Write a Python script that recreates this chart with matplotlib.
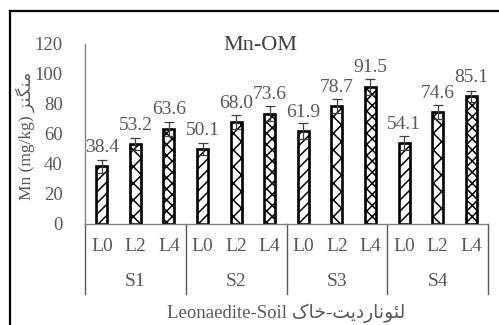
import numpy as np
import matplotlib
matplotlib.use("Agg")
import matplotlib.pyplot as plt
from matplotlib.lines import Line2D

# ── Data ───────────────────────────────────────────────────────────────
soils   = ["S1", "S2", "S3", "S4"]
levels  = ["L0", "L2", "L4"]
values  = [38.4, 53.2, 63.6,
           50.1, 68.0, 73.6,
           61.9, 78.7, 91.5,
           54.1, 74.6, 85.1]
errors  = [4.5, 4.0, 4.6,
           4.0, 4.7, 5.0,
           5.2, 4.4, 5.2,
           4.6, 4.7, 3.8]
hatches = ["///", "xx", "xxx"]

# Persian strings written as shaped glyphs in visual (left-to-right) order,
# since matplotlib does no Arabic shaping
fa_mn   = "\uFEB0\uFEE8\uFB95\uFEE8\uFEE3"              # منگنز
fa_soil = ("\uFB8E\uFE8E\uFEA7-\uFE96\uFBFE\uFEA9\uFEAD"
           "\uFE8E\uFEE7\uFEEE\uFE8C\uFEDF")             # لئوناردیت-خاک

FONT  = ["Liberation Serif", "DejaVu Sans"]
GREY  = "#595959"
plt.rcParams["font.family"] = FONT
plt.rcParams["hatch.linewidth"] = 1.1

W, H = 499, 325
fig = plt.figure(figsize=(W / 100, H / 100), dpi=100)

# axes placed in pixel terms
x0, x1, y_top, y_bot = 85, 488, 44, 224
ax = fig.add_axes([x0 / W, 1 - y_bot / H, (x1 - x0) / W, (y_bot - y_top) / H])

n = len(values)
x = np.arange(n)
for i in range(n):
    ax.bar(x[i], values[i], width=0.33, color="white", edgecolor="black",
           linewidth=1.9, hatch=hatches[i % 3], zorder=2)

ax.errorbar(x, values, yerr=errors, fmt="none", ecolor="#404040",
            elinewidth=0.9, capsize=3.5, capthick=0.9, zorder=3)

for xi, v in zip(x, values):
    ax.annotate(f"{v:.1f}", (xi, v), xytext=(0, 13.5), textcoords="offset points",
                ha="center", va="center", fontsize=14, color=GREY)

ax.set_xlim(-0.5, n - 0.5)
ax.set_ylim(0, 120)
ax.set_yticks(range(0, 121, 20))
ax.tick_params(axis="y", length=0, pad=16, labelsize=13.5, labelcolor=GREY)
ax.set_xticks([])
for s in ["top", "right"]:
    ax.spines[s].set_visible(False)
ax.spines["left"].set_color("#808080")
ax.spines["bottom"].set_color("#808080")
ax.spines["left"].set_linewidth(1.0)
ax.spines["bottom"].set_linewidth(1.0)

# multi-level category axis
trans = ax.get_xaxis_transform()
ax_h = y_bot - y_top
for i in range(n):
    ax.text(x[i], -(246.5 - y_bot) / ax_h, levels[i % 3], transform=trans,
            ha="center", va="center", fontsize=14, color=GREY)
for g, s in enumerate(soils):
    ax.text(3 * g + 1, -(282 - y_bot) / ax_h, s, transform=trans,
            ha="center", va="center", fontsize=14, color=GREY)
for g in range(len(soils) + 1):
    ax.plot([3 * g - 0.5] * 2, [0, -(294 - y_bot) / ax_h], transform=trans,
            color="#595959", linewidth=1.0, clip_on=False)

ax.text(0.5, -(313 - y_bot) / ax_h, "Leonaedite-Soil " + fa_soil, transform=ax.transAxes,
        ha="center", va="center", fontsize=13.5, color=GREY)

fig.text(25 / W, 1 - 136 / H, "Mn (mg/kg) " + fa_mn, rotation=90,
         ha="center", va="center", fontsize=12.5, color=GREY)

fig.text(260 / W, 1 - 45 / H, "Mn-OM", ha="center", va="center",
         fontsize=16, color="#404040")

# outer frame (only left and top edges fall inside the crop)
fig.add_artist(Line2D([10 / W, 10 / W], [0, 1 - 11 / H], color="black", linewidth=1.6))
fig.add_artist(Line2D([10 / W, 1], [1 - 11 / H, 1 - 11 / H], color="black", linewidth=1.6))

fig.savefig("out.png", dpi=100)
